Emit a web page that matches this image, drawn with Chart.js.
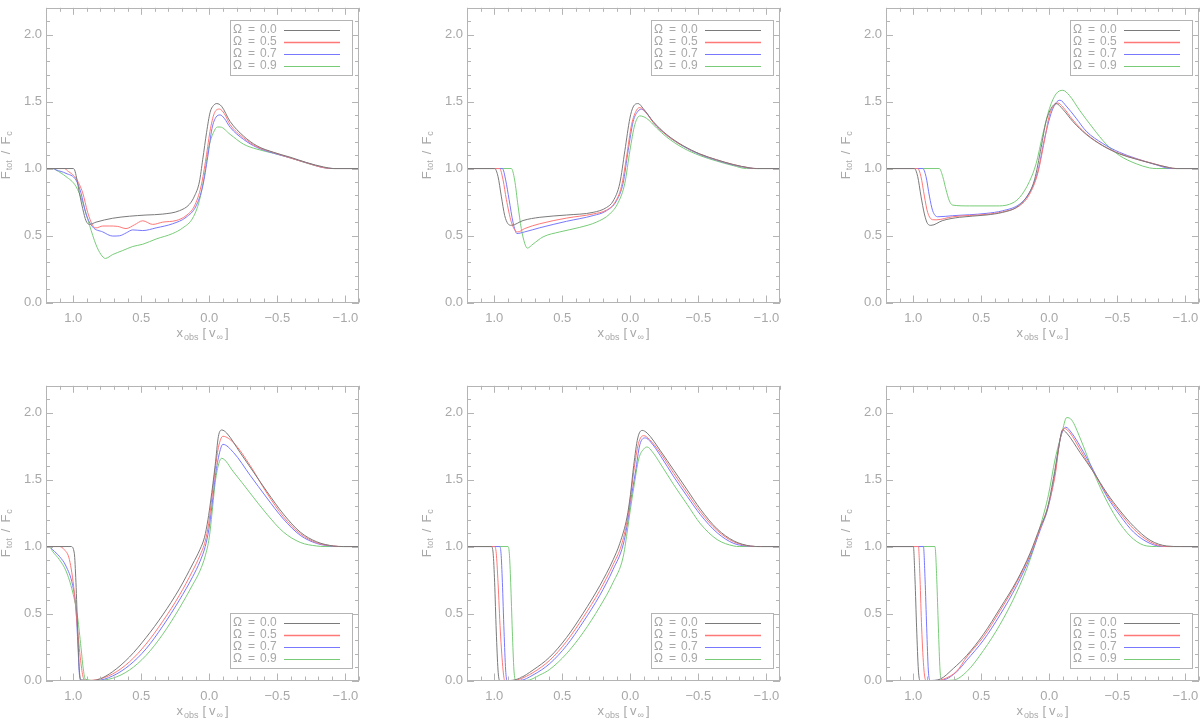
<!DOCTYPE html>
<html>
<head>
<meta charset="utf-8">
<script src="https://cdn.jsdelivr.net/npm/chart.js@4/dist/chart.umd.min.js"></script>
<style>
  html, body { margin: 0; padding: 0; background: #fff; overflow: hidden; width: 1200px; height: 719px; }
  .panel { position: absolute; }
</style>
</head>
<body>
<script>
// legend labels and axis ticks
const omegaLabels = ['0.0', '0.5', '0.7', '0.9'];
const xTicks = [1.0, 0.5, 0.0, -0.5, -1.0];
const yTicks = [0.0, 0.5, 1.0, 1.5, 2.0];

// panel 1 (top left) : [x_obs, F_tot/F_c]
const p1_w00 = [[1.2,1],[1.0,1.0],[0.99,0.99],[0.975,0.93],[0.955,0.82],[0.93,0.70],[0.906,0.61],[0.88,0.583],[0.832,0.60],[0.71,0.629],[0.587,0.644],[0.465,0.653],[0.342,0.66],[0.22,0.685],[0.146,0.733],[0.109,0.794],[0.073,0.90],[0.048,1.07],[0.02,1.27],[-0.006,1.42],[-0.03,1.47],[-0.055,1.485],[-0.09,1.465],[-0.153,1.351],[-0.251,1.243],[-0.349,1.17],[-0.472,1.121],[-0.594,1.085],[-0.717,1.044],[-0.84,1.012],[-0.913,1.0],[-1.1,1.0]];
const p1_w05 = [[1.2,1],[1.06,1.0],[1.05,0.99],[0.98,0.927],[0.93,0.818],[0.894,0.673],[0.857,0.576],[0.832,0.557],[0.783,0.571],[0.734,0.571],[0.673,0.568],[0.612,0.552],[0.55,0.58],[0.489,0.61],[0.416,0.583],[0.342,0.60],[0.244,0.612],[0.171,0.648],[0.109,0.721],[0.06,0.87],[0.024,1.08],[-0.009,1.3],[-0.04,1.42],[-0.075,1.444],[-0.11,1.41],[-0.153,1.327],[-0.251,1.23],[-0.349,1.163],[-0.472,1.12],[-0.594,1.08],[-0.717,1.042],[-0.84,1.007],[-0.913,1.0],[-1.1,1.0]];
const p1_w07 = [[1.2,1],[1.15,1.0],[1.126,0.99],[1.053,0.964],[0.98,0.915],[0.943,0.818],[0.906,0.661],[0.857,0.564],[0.783,0.527],[0.71,0.496],[0.66,0.498],[0.61,0.52],[0.563,0.542],[0.489,0.537],[0.391,0.557],[0.269,0.588],[0.171,0.636],[0.097,0.721],[0.048,0.87],[0.011,1.09],[-0.02,1.3],[-0.05,1.385],[-0.08,1.40],[-0.11,1.375],[-0.153,1.308],[-0.251,1.218],[-0.349,1.158],[-0.472,1.115],[-0.594,1.08],[-0.717,1.042],[-0.84,1.007],[-0.913,1.0],[-1.1,1.0]];
const p1_w09 = [[1.2,1],[1.15,1.0],[1.126,0.988],[1.053,0.94],[0.98,0.867],[0.93,0.746],[0.88,0.576],[0.832,0.43],[0.796,0.358],[0.764,0.329],[0.71,0.358],[0.636,0.388],[0.563,0.418],[0.489,0.435],[0.391,0.474],[0.269,0.515],[0.195,0.557],[0.122,0.63],[0.073,0.76],[0.036,0.95],[0.006,1.15],[-0.031,1.27],[-0.06,1.31],[-0.08,1.31],[-0.153,1.255],[-0.251,1.182],[-0.349,1.145],[-0.472,1.114],[-0.594,1.08],[-0.717,1.04],[-0.84,1.007],[-0.913,1.0],[-1.1,1.0]];

// panel 2 (top middle)
const p2_w00 = [[1.2,1],[0.997,1.0],[0.972,0.94],[0.948,0.794],[0.923,0.649],[0.899,0.588],[0.874,0.576],[0.788,0.612],[0.665,0.636],[0.469,0.653],[0.273,0.673],[0.175,0.709],[0.126,0.758],[0.077,0.891],[0.04,1.133],[0.003,1.376],[-0.021,1.46],[-0.058,1.485],[-0.095,1.448],[-0.168,1.351],[-0.266,1.255],[-0.389,1.17],[-0.511,1.109],[-0.634,1.066],[-0.756,1.03],[-0.879,1.005],[-0.928,1.0],[-1.1,1.0]];
const p2_w05 = [[1.2,1],[0.96,1.0],[0.935,0.915],[0.911,0.77],[0.874,0.60],[0.842,0.533],[0.825,0.527],[0.776,0.552],[0.665,0.588],[0.469,0.63],[0.273,0.661],[0.175,0.69],[0.114,0.746],[0.065,0.867],[0.028,1.085],[-0.009,1.327],[-0.046,1.436],[-0.07,1.455],[-0.119,1.412],[-0.168,1.345],[-0.266,1.25],[-0.389,1.168],[-0.511,1.108],[-0.634,1.065],[-0.756,1.03],[-0.879,1.004],[-0.928,1.0],[-1.1,1.0]];
const p2_w07 = [[1.2,1],[0.94,1.0],[0.916,0.915],[0.891,0.77],[0.862,0.60],[0.833,0.515],[0.776,0.527],[0.665,0.558],[0.469,0.606],[0.273,0.649],[0.175,0.685],[0.102,0.758],[0.053,0.891],[0.016,1.133],[-0.021,1.351],[-0.058,1.43],[-0.082,1.443],[-0.131,1.40],[-0.168,1.345],[-0.266,1.25],[-0.389,1.166],[-0.511,1.105],[-0.634,1.062],[-0.756,1.027],[-0.879,1.003],[-0.92,1.0],[-1.1,1.0]];
const p2_w09 = [[1.2,1],[0.874,1.0],[0.85,0.915],[0.825,0.721],[0.801,0.552],[0.776,0.442],[0.757,0.406],[0.715,0.436],[0.641,0.49],[0.518,0.527],[0.371,0.561],[0.249,0.60],[0.151,0.661],[0.089,0.746],[0.04,0.891],[0.003,1.133],[-0.033,1.327],[-0.07,1.393],[-0.119,1.375],[-0.193,1.303],[-0.266,1.236],[-0.389,1.153],[-0.511,1.097],[-0.634,1.056],[-0.756,1.022],[-0.854,1.0],[-1.1,1.0]];

// panel 3 (top right)
const p3_w00 = [[1.2,1],[0.992,1.0],[0.967,0.94],[0.943,0.794],[0.918,0.661],[0.894,0.588],[0.869,0.576],[0.783,0.612],[0.661,0.636],[0.465,0.653],[0.342,0.673],[0.244,0.709],[0.171,0.782],[0.109,0.915],[0.06,1.158],[0.024,1.351],[-0.013,1.448],[-0.05,1.485],[-0.099,1.443],[-0.173,1.351],[-0.271,1.255],[-0.393,1.17],[-0.516,1.109],[-0.638,1.07],[-0.761,1.036],[-0.883,1.007],[-0.932,1.0],[-1.1,1.0]];
const p3_w05 = [[1.2,1],[0.967,1.0],[0.943,0.94],[0.918,0.794],[0.894,0.673],[0.857,0.618],[0.832,0.617],[0.71,0.64],[0.465,0.658],[0.342,0.677],[0.22,0.721],[0.146,0.806],[0.085,0.964],[0.036,1.206],[-0.001,1.40],[-0.038,1.473],[-0.062,1.49],[-0.099,1.46],[-0.173,1.363],[-0.271,1.26],[-0.393,1.172],[-0.516,1.112],[-0.638,1.072],[-0.761,1.038],[-0.883,1.006],[-0.932,1.0],[-1.1,1.0]];
const p3_w07 = [[1.2,1],[0.93,1.0],[0.906,0.94],[0.881,0.794],[0.857,0.685],[0.82,0.64],[0.71,0.648],[0.465,0.665],[0.342,0.685],[0.22,0.733],[0.146,0.818],[0.085,0.976],[0.036,1.218],[-0.013,1.412],[-0.05,1.492],[-0.079,1.51],[-0.124,1.467],[-0.197,1.376],[-0.271,1.279],[-0.393,1.187],[-0.516,1.121],[-0.638,1.075],[-0.761,1.036],[-0.9,1.0],[-1.1,1.0]];
const p3_w09 = [[1.2,1],[0.808,1.0],[0.783,0.94],[0.759,0.843],[0.734,0.758],[0.71,0.727],[0.587,0.721],[0.391,0.721],[0.293,0.733],[0.22,0.782],[0.146,0.903],[0.097,1.036],[0.048,1.255],[-0.001,1.448],[-0.05,1.558],[-0.099,1.584],[-0.148,1.545],[-0.222,1.436],[-0.32,1.303],[-0.418,1.182],[-0.516,1.097],[-0.638,1.036],[-0.736,1.005],[-0.785,1.0],[-1.1,1.0]];

// panel 4 (bottom left)
const p4_w00 = [[1.2,1],[1.016,1.0],[0.992,0.95],[0.98,0.733],[0.967,0.369],[0.955,0.078],[0.943,0.005],[0.857,0.0],[0.808,0.01],[0.71,0.066],[0.587,0.175],[0.465,0.32],[0.342,0.49],[0.22,0.684],[0.122,0.87],[0.068,0.98],[0.035,1.07],[0.01,1.2],[-0.01,1.34],[-0.043,1.605],[-0.067,1.823],[-0.092,1.87],[-0.128,1.847],[-0.226,1.702],[-0.324,1.557],[-0.423,1.411],[-0.545,1.242],[-0.668,1.108],[-0.79,1.035],[-0.913,1.004],[-0.986,1.0],[-1.1,1.0]];
const p4_w05 = [[1.2,1],[1.102,1.0],[1.065,0.976],[1.028,0.903],[0.992,0.66],[0.967,0.369],[0.943,0.126],[0.925,0.017],[0.906,0.0],[0.832,0.005],[0.71,0.049],[0.587,0.139],[0.465,0.272],[0.342,0.442],[0.22,0.636],[0.122,0.82],[0.068,0.935],[0.03,1.04],[0.005,1.17],[-0.015,1.33],[-0.04,1.55],[-0.067,1.74],[-0.1,1.823],[-0.178,1.775],[-0.3,1.605],[-0.423,1.399],[-0.545,1.222],[-0.668,1.096],[-0.79,1.028],[-0.913,1.004],[-0.98,1.0],[-1.1,1.0]];
const p4_w07 = [[1.2,1],[1.17,0.995],[1.151,0.976],[1.102,0.927],[1.053,0.854],[1.004,0.709],[0.98,0.539],[0.967,0.296],[0.955,0.053],[0.943,0.0],[0.832,0.0],[0.71,0.034],[0.587,0.114],[0.465,0.236],[0.342,0.406],[0.22,0.6],[0.122,0.775],[0.068,0.89],[0.03,1.0],[0.003,1.13],[-0.02,1.31],[-0.045,1.53],[-0.075,1.70],[-0.1,1.763],[-0.178,1.702],[-0.3,1.532],[-0.423,1.363],[-0.545,1.205],[-0.668,1.084],[-0.79,1.023],[-0.913,1.002],[-0.98,1.0],[-1.1,1.0]];
const p4_w09 = [[1.2,1],[1.17,0.993],[1.151,0.963],[1.102,0.903],[1.053,0.818],[1.004,0.66],[0.967,0.466],[0.943,0.248],[0.925,0.078],[0.911,0.01],[0.832,0.0],[0.71,0.017],[0.587,0.078],[0.465,0.187],[0.342,0.345],[0.22,0.539],[0.122,0.715],[0.068,0.82],[0.03,0.93],[0.0,1.07],[-0.02,1.25],[-0.045,1.49],[-0.07,1.62],[-0.09,1.659],[-0.178,1.557],[-0.3,1.399],[-0.423,1.242],[-0.545,1.108],[-0.668,1.031],[-0.79,1.004],[-0.85,1.0],[-1.1,1.0]];

// panel 5 (bottom middle)
const p5_w00 = [[1.2,1],[1.021,1.0],[1.008,0.95],[0.997,0.733],[0.985,0.369],[0.972,0.078],[0.96,0.0],[0.886,0.0],[0.813,0.017],[0.715,0.078],[0.592,0.175],[0.469,0.32],[0.347,0.502],[0.224,0.708],[0.126,0.902],[0.077,1.024],[0.024,1.22],[-0.001,1.387],[-0.025,1.605],[-0.055,1.811],[-0.087,1.867],[-0.124,1.847],[-0.222,1.714],[-0.32,1.569],[-0.418,1.423],[-0.516,1.278],[-0.638,1.132],[-0.761,1.042],[-0.883,1.004],[-0.957,1.0],[-1.1,1.0]];
const p5_w05 = [[1.2,1],[0.997,1.0],[0.985,0.95],[0.972,0.733],[0.955,0.369],[0.935,0.078],[0.923,0.0],[0.86,0.0],[0.813,0.01],[0.715,0.059],[0.592,0.151],[0.469,0.291],[0.347,0.47],[0.224,0.672],[0.126,0.866],[0.065,1.011],[0.024,1.19],[-0.001,1.363],[-0.025,1.557],[-0.06,1.77],[-0.099,1.828],[-0.14,1.80],[-0.222,1.697],[-0.32,1.545],[-0.418,1.399],[-0.516,1.258],[-0.638,1.12],[-0.761,1.035],[-0.883,1.003],[-0.95,1.0],[-1.1,1.0]];
const p5_w07 = [[1.2,1],[0.96,1.0],[0.95,0.95],[0.94,0.733],[0.928,0.369],[0.916,0.078],[0.906,0.0],[0.813,0.0],[0.715,0.041],[0.592,0.126],[0.469,0.26],[0.347,0.436],[0.224,0.636],[0.126,0.83],[0.053,1.011],[0.02,1.18],[-0.001,1.33],[-0.038,1.557],[-0.07,1.76],[-0.111,1.811],[-0.15,1.78],[-0.222,1.677],[-0.32,1.52],[-0.418,1.375],[-0.516,1.237],[-0.638,1.103],[-0.761,1.023],[-0.883,1.002],[-0.94,1.0],[-1.1,1.0]];
const p5_w09 = [[1.2,1],[0.899,1.0],[0.889,0.95],[0.879,0.733],[0.867,0.369],[0.855,0.078],[0.842,0.0],[0.764,0.0],[0.665,0.041],[0.592,0.083],[0.469,0.20],[0.347,0.357],[0.224,0.551],[0.126,0.733],[0.053,0.92],[0.024,1.1],[-0.001,1.28],[-0.025,1.436],[-0.062,1.654],[-0.1,1.73],[-0.124,1.743],[-0.16,1.71],[-0.222,1.617],[-0.32,1.46],[-0.418,1.314],[-0.516,1.169],[-0.638,1.052],[-0.761,1.004],[-0.8,1.0],[-1.1,1.0]];

// panel 6 (bottom right)
const p6_w00 = [[1.2,1],[0.999,1.0],[0.987,0.757],[0.975,0.393],[0.962,0.078],[0.95,0.0],[0.876,0.0],[0.803,0.01],[0.705,0.09],[0.607,0.187],[0.484,0.345],[0.362,0.539],[0.239,0.745],[0.141,0.951],[0.068,1.145],[0.019,1.265],[-0.03,1.508],[-0.067,1.726],[-0.097,1.87],[-0.128,1.847],[-0.226,1.702],[-0.324,1.557],[-0.423,1.399],[-0.521,1.266],[-0.619,1.152],[-0.741,1.047],[-0.864,1.004],[-0.962,1.0],[-1.1,1.0]];
const p6_w05 = [[1.2,1],[0.962,1.0],[0.95,0.757],[0.938,0.393],[0.921,0.078],[0.906,0.0],[0.84,0.0],[0.778,0.01],[0.68,0.07],[0.607,0.175],[0.484,0.326],[0.362,0.52],[0.239,0.733],[0.141,0.939],[0.068,1.132],[0.006,1.314],[-0.043,1.532],[-0.079,1.799],[-0.109,1.883],[-0.153,1.847],[-0.226,1.726],[-0.324,1.557],[-0.423,1.387],[-0.521,1.25],[-0.619,1.132],[-0.741,1.035],[-0.864,1.0],[-1.1,1.0]];
const p6_w07 = [[1.2,1],[0.925,1.0],[0.913,0.757],[0.901,0.393],[0.889,0.078],[0.876,0.0],[0.778,0.005],[0.68,0.066],[0.607,0.151],[0.484,0.301],[0.362,0.49],[0.239,0.709],[0.141,0.922],[0.068,1.12],[0.006,1.302],[-0.043,1.557],[-0.079,1.799],[-0.121,1.891],[-0.165,1.847],[-0.226,1.75],[-0.324,1.569],[-0.423,1.375],[-0.521,1.23],[-0.619,1.108],[-0.741,1.023],[-0.85,1.0],[-1.1,1.0]];
const p6_w09 = [[1.2,1],[0.84,1.0],[0.827,0.757],[0.815,0.393],[0.803,0.078],[0.791,0.0],[0.705,0.003],[0.607,0.066],[0.484,0.224],[0.362,0.418],[0.239,0.66],[0.141,0.903],[0.068,1.145],[0.006,1.387],[-0.043,1.654],[-0.092,1.847],[-0.128,1.963],[-0.165,1.944],[-0.226,1.811],[-0.324,1.557],[-0.423,1.339],[-0.521,1.169],[-0.619,1.055],[-0.717,1.004],[-0.79,1.0],[-1.1,1.0]];

const lineColors = ['#7a7a7a', '#ff7878', '#7878ff', '#78cc78'];
const AXIS_COLOR = '#b4b4b4';
const TEXT_COLOR = '#a8a8a8';
const FONT = '"Liberation Sans", Arial, sans-serif';

const panels = [
  { left: 0,   top: -4,  legend: 'top',    series: [p1_w00, p1_w05, p1_w07, p1_w09] },
  { left: 421, top: -4,  legend: 'top',    series: [p2_w00, p2_w05, p2_w07, p2_w09] },
  { left: 840, top: -4,  legend: 'top',    series: [p3_w00, p3_w05, p3_w07, p3_w09] },
  { left: 0,   top: 374, legend: 'bottom', series: [p4_w00, p4_w05, p4_w07, p4_w09] },
  { left: 421, top: 374, legend: 'bottom', series: [p5_w00, p5_w05, p5_w07, p5_w09] },
  { left: 840, top: 374, legend: 'bottom', series: [p6_w00, p6_w05, p6_w07, p6_w09] }
];

function fmt(v) {
  const s = Math.abs(v).toFixed(1);
  return v < 0 ? '\u2212' + s : s;
}

// draw text pieces, some as subscripts, starting at x
function drawPieces(ctx, pieces, x, y) {
  for (const p of pieces) {
    ctx.font = (p.sub ? '9px ' : '13px ') + FONT;
    ctx.fillText(p.t, x, y + (p.sub ? 4 : 0));
    x += ctx.measureText(p.t).width + (p.gap || 0);
  }
}
function piecesWidth(ctx, pieces) {
  let w = 0;
  for (const p of pieces) {
    ctx.font = (p.sub ? '9px ' : '13px ') + FONT;
    w += ctx.measureText(p.t).width + (p.gap || 0);
  }
  return w;
}

const xTitle = [{t: 'x', gap: 1}, {t: 'obs', sub: true, gap: 4}, {t: '[', gap: 3}, {t: 'v', gap: 1}, {t: '\u221e', sub: true, gap: 2}, {t: ']'}];
const yTitle = [{t: 'F', gap: 1}, {t: 'tot', sub: true, gap: 6}, {t: '/', gap: 6}, {t: 'F', gap: 1}, {t: 'c', sub: true}];

// IDL style frame: inward ticks on all sides, axis titles and boxed legend
const idlFrame = {
  id: 'idlFrame',
  afterDraw(chart, args, opts) {
    const { ctx, chartArea: a, scales: { x, y } } = chart;
    ctx.save();
    ctx.lineWidth = 1;
    ctx.strokeStyle = AXIS_COLOR;
    ctx.strokeRect(Math.round(a.left) + 0.5, Math.round(a.top) + 0.5, Math.round(a.width) - 1, Math.round(a.height) - 1);
    ctx.beginPath();
    for (let i = -11; i <= 12; i++) {
      const px = Math.round(x.getPixelForValue(i / 10)) + 0.5;
      const len = i % 5 === 0 ? 7 : 4;
      ctx.moveTo(px, a.bottom); ctx.lineTo(px, a.bottom - len);
      ctx.moveTo(px, a.top); ctx.lineTo(px, a.top + len);
    }
    for (let i = 0; i <= 22; i++) {
      const py = Math.round(y.getPixelForValue(i / 10)) + 0.5;
      const len = i % 5 === 0 ? 7 : 4;
      ctx.moveTo(a.left, py); ctx.lineTo(a.left + len, py);
      ctx.moveTo(a.right, py); ctx.lineTo(a.right - len, py);
    }
    ctx.stroke();

    // axis titles
    ctx.fillStyle = TEXT_COLOR;
    ctx.textBaseline = 'middle';
    ctx.textAlign = 'left';
    const xw = piecesWidth(ctx, xTitle);
    drawPieces(ctx, xTitle, a.left + a.width / 2 - xw / 2, a.bottom + 31);
    ctx.save();
    ctx.translate(a.left - 38, a.top + a.height / 2);
    ctx.rotate(-Math.PI / 2);
    const yw = piecesWidth(ctx, yTitle);
    drawPieces(ctx, yTitle, -yw / 2, -2);
    ctx.restore();

    // legend box
    const bw = 122, bh = 55;
    const bx = Math.round(a.right - 7.5 - bw);
    const by = Math.floor(opts.where === 'top' ? a.top + 12.5 : a.bottom - 12.5 - bh);
    ctx.strokeStyle = AXIS_COLOR;
    ctx.strokeRect(bx + 0.5, by + 0.5, bw, bh);
    ctx.font = '12px ' + FONT;
    omegaLabels.forEach((lab, i) => {
      const ry = Math.round(by + 9.5 + i * 12.2);
      ctx.fillStyle = TEXT_COLOR;
      ctx.fillText('\u03a9', bx + 3, ry);
      ctx.fillText('=', bx + 18, ry);
      ctx.fillText(lab, bx + 30, ry);
      ctx.beginPath();
      ctx.strokeStyle = lineColors[i];
      ctx.lineWidth = i === 1 ? 1.6 : 1;
      ctx.moveTo(bx + 54, ry + 0.5);
      ctx.lineTo(bx + 110, ry + 0.5);
      ctx.stroke();
    });
    ctx.restore();
  }
};

panels.forEach(p => {
  const canvas = document.createElement('canvas');
  canvas.className = 'panel';
  canvas.width = 420;
  canvas.height = 362;
  canvas.style.left = p.left + 'px';
  canvas.style.top = p.top + 'px';
  document.body.appendChild(canvas);

  new Chart(canvas.getContext('2d'), {
    type: 'scatter',
    data: {
      datasets: p.series.map((s, i) => ({
        label: '\u03a9 = ' + omegaLabels[i],
        data: s.map(d => ({ x: d[0], y: d[1] })).sort((a, b) => a.x - b.x),
        showLine: true,
        borderColor: lineColors[i],
        borderWidth: 1,
        pointRadius: 0,
        fill: false,
        cubicInterpolationMode: 'monotone'
      }))
    },
    options: {
      responsive: false,
      animation: false,
      devicePixelRatio: 1,
      layout: { padding: { top: 4, right: 61, left: 0, bottom: 0 } },
      scales: {
        x: {
          type: 'linear',
          min: -1.1,
          max: 1.2,
          reverse: true,
          grid: { display: false, drawTicks: false },
          border: { display: false },
          afterBuildTicks: scale => { scale.ticks = xTicks.map(v => ({ value: v })); },
          afterFit: scale => { scale.height = 55.5; },
          ticks: { color: TEXT_COLOR, font: { family: FONT, size: 13 }, padding: 8, maxRotation: 0, callback: v => fmt(v) }
        },
        y: {
          min: 0,
          max: 2.2,
          grid: { display: false, drawTicks: false },
          border: { display: false },
          afterBuildTicks: scale => { scale.ticks = yTicks.map(v => ({ value: v })); },
          afterFit: scale => { scale.width = 46; },
          ticks: { color: TEXT_COLOR, font: { family: FONT, size: 13 }, padding: 4, callback: v => fmt(v) }
        }
      },
      plugins: {
        legend: { display: false },
        tooltip: { enabled: false },
        idlFrame: { where: p.legend }
      }
    },
    plugins: [idlFrame]
  });
});
</script>
</body>
</html>
